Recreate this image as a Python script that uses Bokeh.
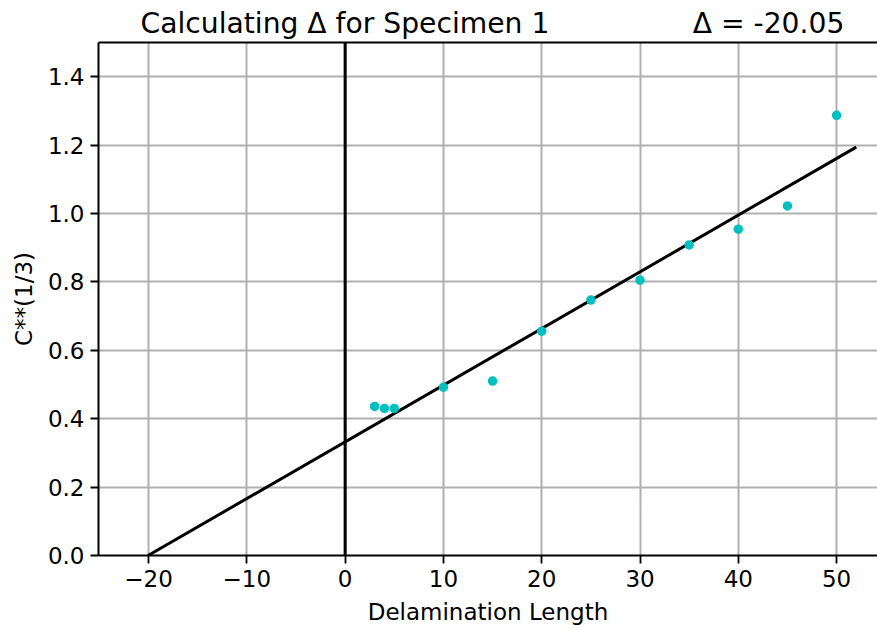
from bokeh.plotting import figure
from bokeh.models import Range1d, LinearAxis, FixedTicker, Span
from bokeh.embed import file_html
from bokeh.resources import INLINE

# Data
lengths = [3, 4, 5, 10, 15, 20, 25, 30, 35, 40, 45, 50]
c_cuberoot = [0.436, 0.430, 0.430, 0.492, 0.510, 0.656, 0.747, 0.805, 0.908, 0.954, 1.022, 1.287]
fit_x = [-20.05, 52.0]
fit_y = [0.0, 1.194]
delta = -20.05
x_ticks = [-20, -10, 0, 10, 20, 30, 40, 50]
y_ticks = [0.0, 0.2, 0.4, 0.6, 0.8, 1.0, 1.2, 1.4]
title_left = "Calculating \u0394 for Specimen 1"
title_right = f"\u0394 = {delta:.2f}"

FONT = "DejaVu Sans"

p = figure(width=877, height=630, output_backend="svg", toolbar_location=None,
           x_range=Range1d(-25.09, 54.16), y_range=Range1d(0, 1.5),
           min_border_left=98, min_border_right=0, min_border_top=42, min_border_bottom=75)
p.outline_line_color = None
p.background_fill_color = "white"
p.border_fill_color = "white"

for ax in (p.xaxis[0], p.yaxis[0]):
    ax.axis_line_color = "black"
    ax.axis_line_width = 2
    ax.major_tick_line_color = "black"
    ax.major_tick_line_width = 1.8
    ax.major_tick_in = 0
    ax.major_tick_out = 8
    ax.minor_tick_line_color = None
    ax.major_label_text_font = FONT
    ax.major_label_text_font_size = "23px"
    ax.major_label_text_color = "black"
    ax.axis_label_text_font = FONT
    ax.axis_label_text_font_size = "23px"
    ax.axis_label_text_font_style = "normal"
    ax.axis_label_text_color = "black"

p.xaxis.ticker = FixedTicker(ticks=x_ticks)
p.yaxis.ticker = FixedTicker(ticks=y_ticks)
p.xaxis.major_label_overrides = {t: ("\u2212" + str(abs(t)) if t < 0 else str(t)) for t in x_ticks}
p.yaxis.major_label_overrides = {t: f"{t:.1f}" for t in y_ticks}
p.xaxis.axis_label = "Delamination Length"
p.yaxis.axis_label = "C**(1/3)"
p.xaxis.major_label_standoff = 6
p.yaxis.major_label_standoff = 6
p.xaxis.axis_label_standoff = 9
p.yaxis.axis_label_standoff = 8

top = LinearAxis(ticker=FixedTicker(ticks=[]), axis_line_color="black", axis_line_width=2,
                 major_tick_line_color=None, minor_tick_line_color=None,
                 major_tick_out=0, major_label_standoff=0,
                 major_label_text_font_size="0px")
p.add_layout(top, "above")

p.grid.grid_line_color = "#b0b0b0"
p.grid.grid_line_width = 2
p.xgrid.ticker = FixedTicker(ticks=x_ticks)
p.ygrid.ticker = FixedTicker(ticks=y_ticks)

p.add_layout(Span(location=0, dimension="height", line_color="black", line_width=3))

p.line(fit_x, fit_y, line_color="black", line_width=3)
p.scatter(lengths, c_cuberoot, size=9.5, fill_color="#00bfbf", line_color=None)

p.title.text = title_left + "\u00a0" * 16 + title_right
p.title.align = "left"
p.title.offset = 42
p.title.text_font = FONT
p.title.text_font_size = "28.2px"
p.title.text_font_style = "normal"
p.title.text_color = "black"
p.title.standoff = 6

open("out.html", "w").write(file_html(p, INLINE))
